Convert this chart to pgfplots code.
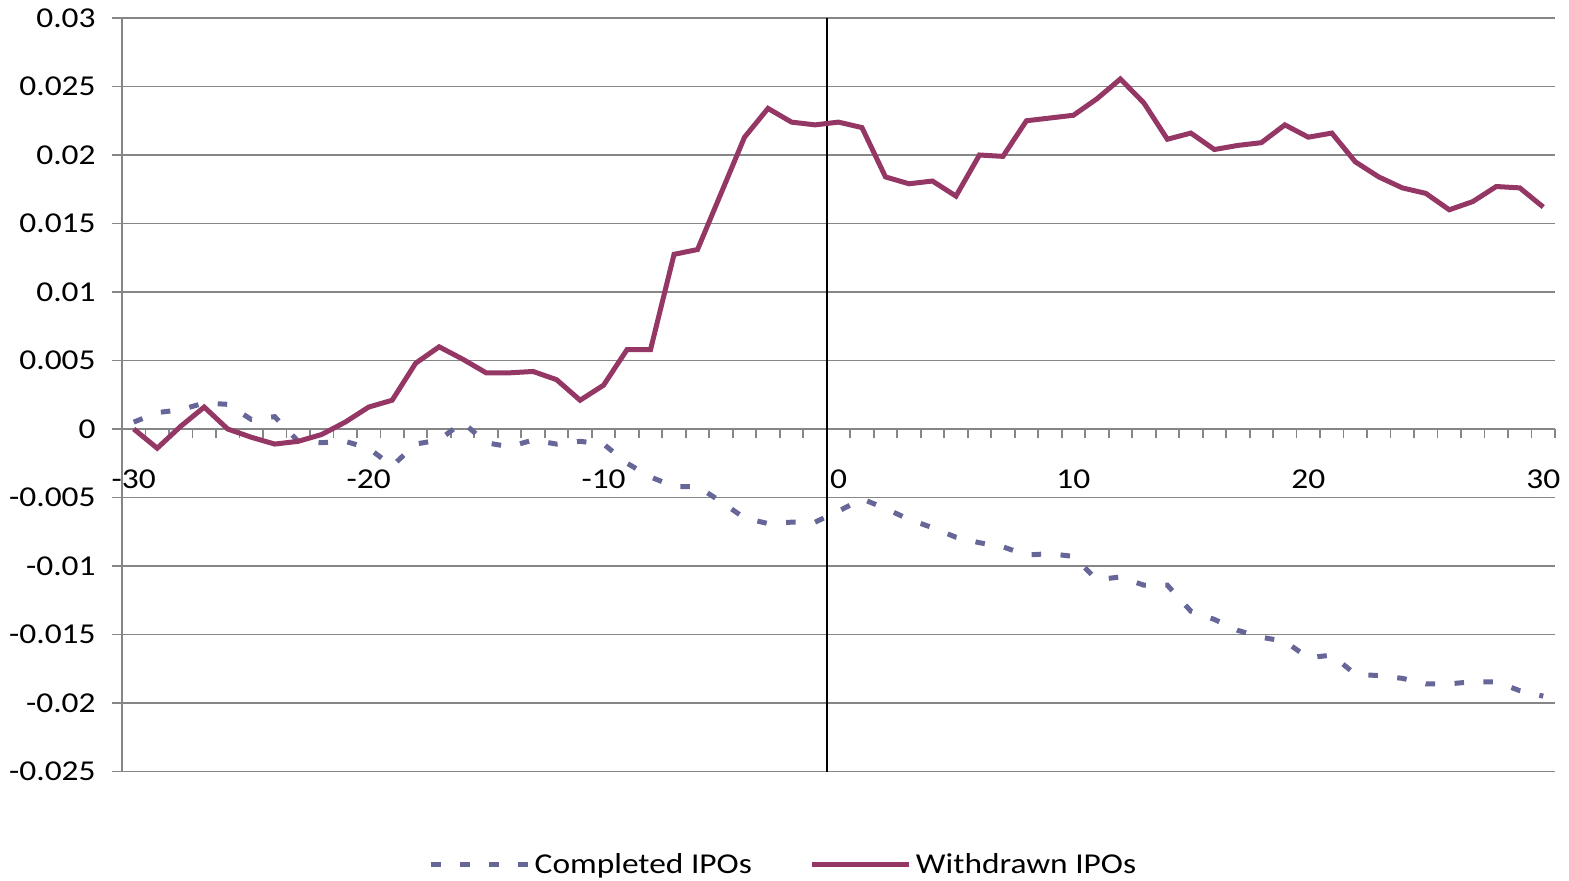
\documentclass[border=0pt]{standalone}
\usepackage{fontspec}
\setmainfont{Carlito}[FakeStretch=1.16]
\usepackage{pgfplots}
\pgfplotsset{compat=1.18}
\definecolor{withdrawn}{HTML}{953765}
\definecolor{completed}{HTML}{666699}
\definecolor{gridgray}{HTML}{868686}
\newcommand{\lblfont}{\fontsize{14.4}{17}\selectfont}
\begin{document}
\begin{tikzpicture}
\begin{axis}[
  scale only axis,
  width=716.5pt, height=376.75pt,
  xmin=-30.5, xmax=30.5,
  ymin=-0.025, ymax=0.03,
  axis x line=middle,
  axis y line=left,
  axis line style={-, draw=gridgray, line width=0.9pt},
  hide obscured x ticks=false,
  hide obscured y ticks=false,
  scaled y ticks=false,
  scaled x ticks=false,
  clip=false,
  xtick={-30,-20,-10,0,10,20,30},
  xticklabels={-30,-20,-10,0,10,20,30},
  minor xtick={-29.5,-28.5,...,30.5},
  ytick={-0.025,-0.02,-0.015,-0.01,-0.005,0,0.005,0.01,0.015,0.02,0.025,0.03},
  yticklabels={-0.025,-0.02,-0.015,-0.01,-0.005,0,0.005,0.01,0.015,0.02,0.025,0.03},
  tick align=outside,
  major tick length=5pt,
  minor tick length=4.5pt,
  every major x tick/.append style={draw=none},
  every tick/.append style={gridgray, line width=0.9pt},
  ymajorgrids,
  major grid style={gridgray, line width=0.9pt},
  tick label style={font=\lblfont, text=black},
  xticklabel style={anchor=north, inner sep=0pt, yshift=-15pt},
  yticklabel style={anchor=east, inner sep=0pt, xshift=-8pt},
  legend columns=2,
  legend style={draw=none, fill=none, inner sep=0pt, font=\lblfont, at={(0.4623,-0.1235)}, anchor=center,
    /tikz/every even column/.append style={column sep=27pt}},
  legend image code/.code={\draw[#1] (0pt,0pt) -- (48.5pt,0pt);},
]
\draw[black, line width=1pt] (axis cs:-0.5,-0.025) -- (axis cs:-0.5,0.03);
\addplot[completed, line width=2.5pt, dash pattern=on 4.75pt off 9.75pt] coordinates {
(-30,0.0005) (-29,0.0012) (-28,0.0014) (-27,0.0019) (-26,0.0018) (-25,0.0007)
(-24,0.0009) (-23,-0.0009) (-22,-0.0010) (-21,-0.0009) (-20,-0.0014) (-19,-0.0027)
(-18,-0.0011) (-17,-0.0008) (-16,0.0005) (-15,-0.0010) (-14,-0.0013) (-13,-0.0008)
(-12,-0.0011) (-11,-0.0009) (-10,-0.0011) (-9,-0.0025) (-8,-0.0035) (-7,-0.0042)
(-6,-0.0042) (-5,-0.0053) (-4,-0.0065) (-3,-0.0069) (-2,-0.0068) (-1,-0.0068)
(0,-0.0060) (1,-0.0051) (2,-0.0058) (3,-0.0066) (4,-0.0072) (5,-0.0079)
(6,-0.0083) (7,-0.0086) (8,-0.0092) (9,-0.0091) (10,-0.0093) (11,-0.0110)
(12,-0.0108) (13,-0.0114) (14,-0.0114) (15,-0.0133) (16,-0.0139) (17,-0.0147)
(18,-0.0152) (19,-0.0155) (20,-0.0167) (21,-0.0165) (22,-0.0179) (23,-0.0180)
(24,-0.0182) (25,-0.0186) (26,-0.0186) (27,-0.01845) (28,-0.01845) (29,-0.0191)
(30,-0.0195)};
\addlegendentry{Completed IPOs}
\addplot[withdrawn, line width=2.5pt] coordinates {
(-30,0.0000) (-29,-0.0014) (-28,0.0002) (-27,0.0016) (-26,0.0000) (-25,-0.0006)
(-24,-0.0011) (-23,-0.0009) (-22,-0.0004) (-21,0.0005) (-20,0.0016) (-19,0.0021)
(-18,0.0048) (-17,0.0060) (-16,0.0051) (-15,0.0041) (-14,0.0041) (-13,0.0042)
(-12,0.0036) (-11,0.0021) (-10,0.0032) (-9,0.0058) (-8,0.0058) (-7,0.01275)
(-6,0.0131) (-5,0.0172) (-4,0.0213) (-3,0.0234) (-2,0.0224) (-1,0.0222)
(0,0.0224) (1,0.0220) (2,0.0184) (3,0.0179) (4,0.0181) (5,0.0170)
(6,0.0200) (7,0.0199) (8,0.0225) (9,0.0227) (10,0.0229) (11,0.0241)
(12,0.02555) (13,0.0238) (14,0.02115) (15,0.0216) (16,0.0204) (17,0.0207)
(18,0.0209) (19,0.0222) (20,0.0213) (21,0.0216) (22,0.0195) (23,0.0184)
(24,0.0176) (25,0.0172) (26,0.0160) (27,0.0166) (28,0.0177) (29,0.0176)
(30,0.0162)};
\addlegendentry{Withdrawn IPOs}
\path (rel axis cs:0,0) ++(-61pt,-53.75pt) rectangle ++(784.5pt,439.5pt);
\end{axis}
\end{tikzpicture}
\end{document}
